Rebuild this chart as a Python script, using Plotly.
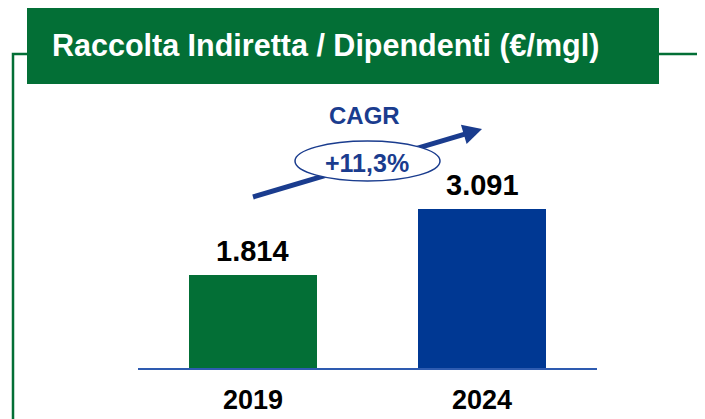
import plotly.graph_objects as go

# ---- data ----
categories = ["2019", "2024"]
values = [1814, 3091]
bar_colors = ["#036F36", "#003893"]
title_text = "Raccolta Indiretta / Dipendenti (€/mgl)"
cagr_title = "CAGR"
cagr_value = "+11,3%"

# ---- geometry (pixels, measured in the 705x419 window) ----
PAGE_OFF = 8                      # default body margin of the html page
W, H = 705 - PAGE_OFF, 419 - PAGE_OFF
PLOT_L, PLOT_R, PLOT_T, PLOT_B = 138, 597, 100, 368
L, T = PLOT_L - PAGE_OFF, PLOT_T - PAGE_OFF
R, B = 705 - PLOT_R, 419 - PLOT_B
PW, PH = PLOT_R - PLOT_L, PLOT_B - PLOT_T
Y_MAX = 5214

GREEN = "#036F36"
NAVY = "#1A3C8E"
FONT = "Liberation Sans, Arial, sans-serif"


def px(x):
    return (x - PLOT_L) / PW


def py(y):
    return (PLOT_B - y) / PH


def fmt(v):
    return f"{v:,}".replace(",", ".")


fig = go.Figure()
fig.add_trace(go.Bar(
    x=categories, y=values, marker=dict(color=bar_colors, line=dict(width=0)),
    width=0.56, hoverinfo="skip",
))

shapes = []
# header box
shapes.append(dict(type="rect", xref="paper", yref="paper",
                   x0=px(27), x1=px(659), y0=py(8), y1=py(84),
                   fillcolor=GREEN, line=dict(width=0), layer="above"))
# frame lines
shapes.append(dict(type="path", xref="paper", yref="paper",
                   path=f"M {px(13)} {py(425)} L {px(13)} {py(54)} L {px(27)} {py(54)}",
                   line=dict(color=GREEN, width=2.5)))
shapes.append(dict(type="line", xref="paper", yref="paper",
                   x0=px(659), x1=px(710), y0=py(54), y1=py(54),
                   line=dict(color=GREEN, width=2.5)))

# CAGR arrow (shapes, drawn under the ellipse)
tail = (253, 197)
tip = (482, 129)
dx, dy = tip[0] - tail[0], tip[1] - tail[1]
ln = (dx * dx + dy * dy) ** 0.5
ux, uy = dx / ln, dy / ln
nx, ny = -uy, ux
hl, hw = 19, 10
bx, by = tip[0] - hl * ux, tip[1] - hl * uy
shapes.append(dict(type="line", xref="paper", yref="paper",
                   x0=px(tail[0]), y0=py(tail[1]), x1=px(bx + 2 * ux), y1=py(by + 2 * uy),
                   line=dict(color=NAVY, width=5)))
p1 = (bx + hw * nx, by + hw * ny)
p2 = (bx - hw * nx, by - hw * ny)
shapes.append(dict(type="path", xref="paper", yref="paper",
                   path=f"M {px(tip[0])} {py(tip[1])} L {px(p1[0])} {py(p1[1])} L {px(p2[0])} {py(p2[1])} Z",
                   fillcolor=NAVY, line=dict(color=NAVY, width=0)))
# ellipse
shapes.append(dict(type="circle", xref="paper", yref="paper",
                   x0=px(295), x1=px(440), y0=py(181), y1=py(141),
                   fillcolor="white", line=dict(color=NAVY, width=1.5)))

annotations = []
annotations.append(dict(xref="paper", yref="paper", x=px(50), y=py(46),
                        xanchor="left", yanchor="middle", showarrow=False,
                        text=title_text,
                        font=dict(family=FONT, size=30.5, color="white", weight="bold")))
annotations.append(dict(xref="paper", yref="paper", x=px(364), y=py(116),
                        xanchor="center", yanchor="middle", showarrow=False,
                        text=cagr_title,
                        font=dict(family=FONT, size=24, color=NAVY, weight="bold")))
annotations.append(dict(xref="paper", yref="paper", x=px(367), y=py(163),
                        xanchor="center", yanchor="middle", showarrow=False,
                        text=cagr_value,
                        font=dict(family=FONT, size=25, color=NAVY, weight="bold")))
for i, v in enumerate(values):
    annotations.append(dict(x=i, y=v, xref="x", yref="y", xanchor="center", yanchor="bottom",
                            yshift=6, showarrow=False, text=fmt(v),
                            font=dict(family=FONT, size=29, color="black", weight="bold")))

fig.update_layout(
    template="none",
    width=W, height=H,
    margin=dict(l=L, r=R, t=T, b=B, pad=0, autoexpand=False),
    paper_bgcolor="white", plot_bgcolor="white",
    showlegend=False, bargap=0,
    shapes=shapes, annotations=annotations,
    xaxis=dict(type="category", range=[-0.502, 1.502], showgrid=False, zeroline=False,
               automargin=False,
               showline=True, linecolor="#2E5BB0", linewidth=2,
               ticks="", ticklabelstandoff=7,
               tickfont=dict(family=FONT, size=27, color="black", weight="bold")),
    yaxis=dict(range=[0, Y_MAX], visible=False, showgrid=False, zeroline=False, automargin=False),
)

fig.write_html("out.html")
